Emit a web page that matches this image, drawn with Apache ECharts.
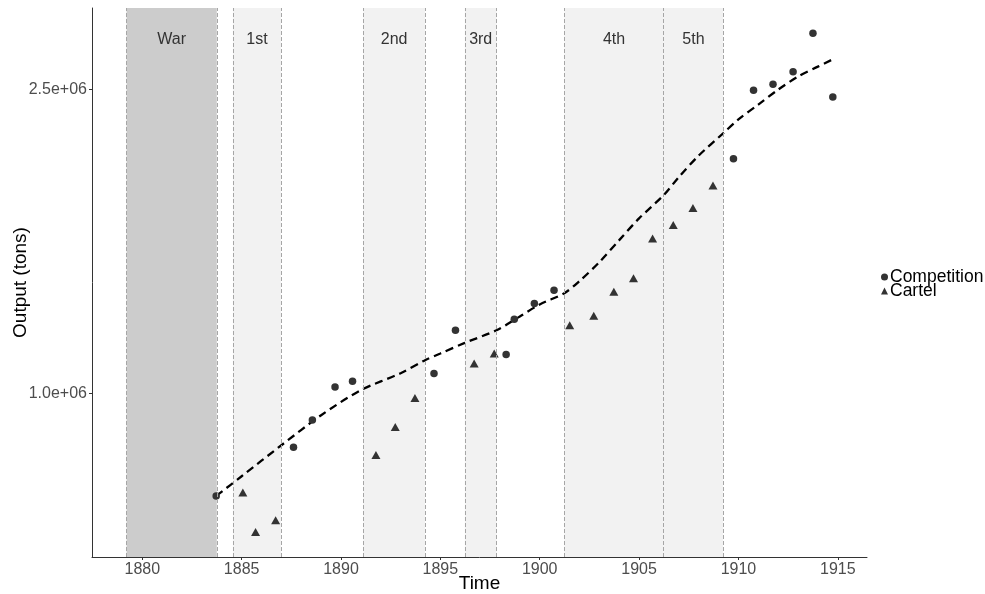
<!DOCTYPE html>
<html>
<head>
<meta charset="utf-8">
<script src="https://cdn.jsdelivr.net/npm/echarts@6/dist/echarts.min.js"></script>
<style>
  html, body { margin: 0; padding: 0; background: #fff; }
  #chart { width: 985px; height: 594px; }
</style>
</head>
<body>
<div id="chart"></div>
<script>
// Nitrate output, competition vs. cartel years
const competitionYears = [1883.72, 1887.61, 1888.56, 1889.70, 1890.58, 1894.68, 1895.76, 1898.31, 1898.72, 1899.73, 1900.72, 1909.75, 1910.76, 1911.74, 1912.75, 1913.75, 1914.75];
const competitionOutput = [494800, 735000, 869700, 1032600, 1060700, 1098700, 1312300, 1192400, 1366600, 1444100, 1509700, 2157500, 2495000, 2524700, 2586800, 2776300, 2462000];

const cartelYears = [1885.06, 1885.70, 1886.71, 1891.76, 1892.73, 1893.72, 1896.70, 1897.71, 1901.51, 1902.72, 1903.73, 1904.72, 1905.68, 1906.72, 1907.71, 1908.72];
const cartelOutput = [506600, 312200, 369900, 692100, 830300, 973400, 1143100, 1192400, 1332100, 1378000, 1496400, 1564000, 1758900, 1825500, 1909400, 2021400];

// Smoothed trend
const trendYears = [1883.72, 1885, 1887, 1889, 1891, 1893, 1894.23, 1895, 1896.23, 1897.83, 1899, 1900, 1901.24, 1902, 1903, 1904, 1905, 1906.24, 1907, 1908, 1909.23, 1910, 1911, 1912, 1913, 1914, 1914.75];
const trendOutput = [494800, 592000, 744900, 892900, 1016300, 1100200, 1164300, 1197400, 1249700, 1312300, 1379900, 1439100, 1494900, 1554100, 1647800, 1756400, 1863500, 1978400, 2067300, 2173300, 2282900, 2351900, 2425000, 2498500, 2563100, 2612000, 2648000];

// War and cartel periods
const periodNames = ['War', '1st', '2nd', '3rd', '4th', '5th'];
const periodStart = [1879.21, 1884.56, 1891.12, 1896.23, 1901.24, 1906.24];
const periodEnd = [1883.75, 1886.98, 1894.23, 1897.83, 1906.24, 1909.23];

const xTicks = [1880, 1885, 1890, 1895, 1900, 1905, 1910, 1915];
const yTicks = [1000000, 2500000];
const yTickLabels = ['1.0e+06', '2.5e+06'];

const FONT = 'Liberation Sans, Arial, sans-serif';
const pointColor = '#333333';

const pair = (xs, ys) => xs.map((x, i) => [x, ys[i]]);

const areas = periodNames.map((name, i) => [
  {
    name: name,
    xAxis: periodStart[i],
    itemStyle: { color: name === 'War' ? '#cccccc' : '#f2f2f2' }
  },
  { xAxis: periodEnd[i] }
]);

const boundaries = Array.from(new Set(periodStart.concat(periodEnd)));

const chart = echarts.init(document.getElementById('chart'), null, { renderer: 'canvas' });
chart.setOption({
  animation: false,
  backgroundColor: '#fff',
  textStyle: { fontFamily: FONT },
  grid: { left: 92, right: 118, top: 8, bottom: 37, containLabel: false, outerBoundsMode: 'none' },
  legend: {
    orient: 'vertical',
    left: 876,
    top: 263,
    itemWidth: 7,
    itemHeight: 7,
    itemGap: -4,
    textStyle: { fontSize: 17.5, color: '#000', fontFamily: FONT, lineHeight: 14, padding: [0, 0, 0, -3] },
    data: [
      { name: 'Competition', icon: 'circle', itemStyle: { color: pointColor, opacity: 1 } },
      { name: 'Cartel', icon: 'triangle', itemStyle: { color: pointColor, opacity: 1 } }
    ]
  },
  xAxis: {
    type: 'value',
    min: 1877.47,
    max: 1916.47,
    name: 'Time',
    nameLocation: 'middle',
    nameGap: 17,
    nameMoveOverlap: false,
    nameTextStyle: { fontSize: 19, color: '#000', fontFamily: FONT },
    axisLine: { show: true, lineStyle: { color: '#333', width: 1 } },
    axisTick: { show: true, customValues: xTicks, length: 3, lineStyle: { color: '#333' } },
    axisLabel: {
      customValues: xTicks,
      fontSize: 16,
      color: '#4d4d4d',
      margin: 5,
      fontFamily: FONT,
      formatter: v => String(v)
    },
    splitLine: { show: false }
  },
  yAxis: {
    type: 'value',
    min: 193770,
    max: 2901120,
    name: 'Output (tons)',
    nameLocation: 'middle',
    nameGap: 62,
    nameMoveOverlap: false,
    nameTextStyle: { fontSize: 19, color: '#000', fontFamily: FONT },
    axisLine: { show: true, lineStyle: { color: '#333', width: 1 } },
    axisTick: { show: true, customValues: yTicks, length: 3, lineStyle: { color: '#333' } },
    axisLabel: {
      customValues: yTicks,
      fontSize: 16,
      color: '#4d4d4d',
      margin: 5,
      fontFamily: FONT,
      formatter: v => yTickLabels[yTicks.indexOf(v)]
    },
    splitLine: { show: false }
  },
  series: [
    {
      name: 'periods',
      type: 'line',
      data: [],
      z: 1,
      silent: true,
      markArea: {
        silent: true,
        label: {
          show: true,
          position: 'insideTop',
          distance: 24,
          fontSize: 16,
          color: '#333',
          fontFamily: FONT
        },
        data: areas
      },
      markLine: {
        silent: true,
        symbol: 'none',
        label: { show: false },
        lineStyle: { type: [4, 2], color: '#a6a6a6', width: 1 },
        data: boundaries.map(v => ({ xAxis: v }))
      }
    },
    {
      name: 'trend',
      type: 'line',
      z: 3,
      data: pair(trendYears, trendOutput),
      smooth: 0.3,
      showSymbol: false,
      lineStyle: { color: '#000', width: 2.3, type: [8, 5] }
    },
    {
      name: 'Competition',
      type: 'scatter',
      z: 4,
      symbol: 'circle',
      symbolSize: 7.5,
      itemStyle: { color: pointColor, opacity: 1 },
      data: pair(competitionYears, competitionOutput)
    },
    {
      name: 'Cartel',
      type: 'scatter',
      z: 4,
      symbol: 'triangle',
      symbolSize: [9, 8],
      symbolOffset: [0, -1],
      itemStyle: { color: pointColor, opacity: 1 },
      data: pair(cartelYears, cartelOutput)
    }
  ]
});
</script>
</body>
</html>
